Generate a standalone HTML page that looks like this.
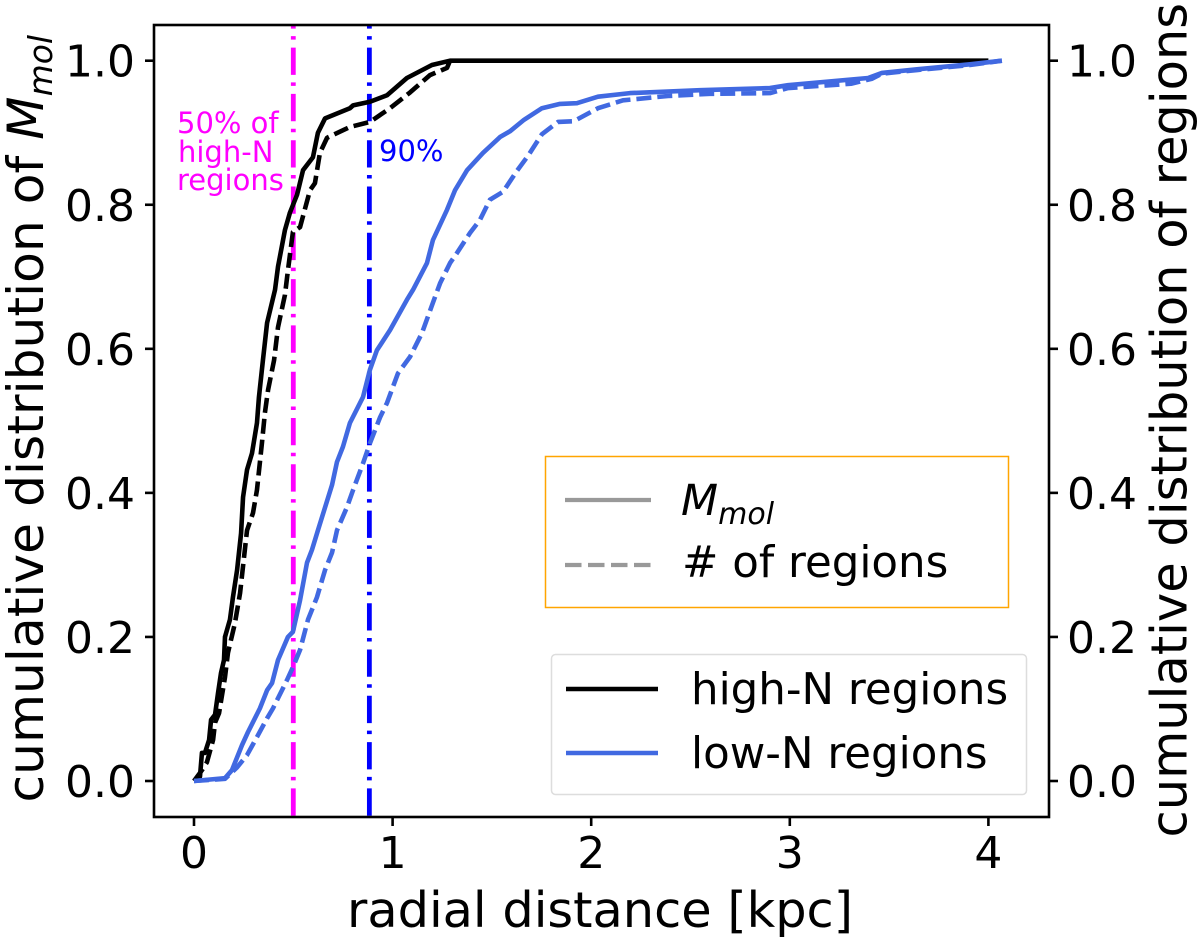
<!DOCTYPE html>
<html>
<head>
<meta charset="utf-8">
<style>
html,body{margin:0;padding:0;background:#fff}
svg{display:block}
text{font-family:"DejaVu Sans","Liberation Sans",sans-serif;fill:#000}
</style>
</head>
<body>
<svg id="chart" width="1200" height="941" viewBox="0 0 1200 941" xmlns="http://www.w3.org/2000/svg">
  <rect x="154" y="25" width="895" height="792" fill="#fff"/>
  <g id="vlines"></g>
  <g id="series"></g>
  <g id="axes"></g>
  <text x="177" y="133" font-size="29" style="fill:#ff00ff">50% of</text>
  <text x="178" y="162" font-size="29" style="fill:#ff00ff">high-N</text>
  <text x="177" y="190" font-size="29" style="fill:#ff00ff">regions</text>
  <text x="379" y="161" font-size="29" style="fill:#0000ff">90%</text>

  <text x="600" y="927" font-size="49.4" text-anchor="middle">radial distance [kpc]</text>
  <text transform="translate(43,802.5) rotate(-90)" font-size="50.3">cumulative distribution of <tspan font-style="italic">M</tspan><tspan font-style="italic" font-size="33" dy="9">mol</tspan></text>
  <text transform="translate(1186.5,837.5) rotate(-90)" font-size="49.5">cumulative distribution of regions</text>

  <g>
    <rect x="545.5" y="456.5" width="463" height="151" fill="#fff" stroke="#ffa500" stroke-width="1.5"/>
    <line x1="565" x2="651" y1="500" y2="500" stroke="#999" stroke-width="4.2"/>
    <text x="681" y="515" font-size="43" font-style="italic">M<tspan font-size="30" dy="9">mol</tspan></text>
    <line x1="565" x2="651" y1="565" y2="565" stroke="#999" stroke-width="4.2" stroke-dasharray="16.5 6.5"/>
    <text x="682" y="577" font-size="43.5"># of regions</text>
  </g>
  <g>
    <rect x="551.5" y="654.5" width="475" height="140" rx="4" ry="4" fill="#fff" fill-opacity="0.8" stroke="#ddd" stroke-width="1.5"/>
    <line x1="566" x2="658" y1="689" y2="689" stroke="#000" stroke-width="4.4"/>
    <text x="691" y="704" font-size="43.5">high-N regions</text>
    <line x1="566" x2="658" y1="753" y2="753" stroke="#4169e1" stroke-width="4.4"/>
    <text x="691" y="768" font-size="43.5">low-N regions</text>
  </g>
</svg>
<script>
const xTicks = [0, 1, 2, 3, 4];
const yTicks = [0.0, 0.2, 0.4, 0.6, 0.8, 1.0];
const markerLines = [0.5, 0.883];

const highSolidX = [0,.030,.040,.055,.076,.086,.106,.121,.136,.151,.156,.181,.196,.217,.237,.247,.267,.292,.317,.327,.347,.368,.408,.423,.458,.483,.519,.549,.599,.624,.660,.785,.801,.886,.972,1.072,1.198,1.289,4.0];
const highSolidY = [0,.006,.039,.039,.057,.085,.092,.122,.150,.168,.200,.224,.255,.293,.344,.394,.432,.455,.497,.533,.584,.636,.682,.714,.765,.789,.814,.848,.866,.900,.920,.934,.938,.943,.952,.976,.994,1.0,1.0];

const highDashX = [0,.040,.065,.096,.106,.126,.141,.156,.171,.206,.232,.252,.267,.297,.317,.342,.357,.373,.403,.423,.458,.473,.498,.534,.584,.609,.634,.670,.785,.886,.987,1.088,1.188,1.274,1.289];
const highDashY = [0,.015,.026,.057,.081,.094,.119,.144,.178,.219,.261,.311,.348,.372,.404,.469,.511,.543,.584,.630,.675,.709,.762,.769,.820,.830,.872,.893,.908,.915,.934,.956,.980,.990,1.0];

const lowSolidX = [0,.156,.191,.242,.272,.332,.368,.393,.423,.473,.498,.534,.569,.594,.624,.660,.695,.720,.750,.785,.851,.886,.921,.987,1.072,1.103,1.173,1.203,1.274,1.314,1.375,1.455,1.541,1.591,1.662,1.752,1.843,1.928,2.034,2.195,2.548,2.900,2.991,3.394,3.464,3.640,3.907,4.068];
const lowSolidY = [0,.004,.015,.050,.068,.101,.126,.136,.168,.200,.207,.251,.303,.321,.348,.380,.411,.443,.464,.497,.533,.571,.598,.626,.668,.682,.719,.751,.793,.820,.848,.872,.894,.902,.918,.934,.940,.941,.950,.955,.959,.962,.966,.976,.983,.988,.995,1.0];

const lowDashX = [0,.156,.217,.267,.317,.368,.398,.468,.498,.534,.574,.619,.660,.695,.720,.770,.801,.851,.886,.937,.972,1.027,1.088,1.148,1.203,1.239,1.289,1.324,1.390,1.440,1.490,1.556,1.626,1.682,1.752,1.833,1.913,2.034,2.160,2.387,2.598,2.900,2.991,3.308,3.414,3.464,3.640,3.907,4.068];
const lowDashY = [0,.003,.019,.036,.061,.087,.101,.140,.158,.182,.224,.255,.293,.317,.348,.380,.404,.441,.469,.505,.525,.566,.589,.622,.664,.691,.719,.733,.761,.779,.807,.818,.847,.868,.898,.915,.916,.934,.945,.951,.954,.955,.962,.968,.975,.982,.987,.994,1.0];

const NS = 'http://www.w3.org/2000/svg';
const plotLeft = 154, plotRight = 1049, plotTop = 25, plotBottom = 817;
function xScale(v) { return 194 + v * 198.6; }
function yScale(v) { return 781 - v * 720.3; }
function make(tag, attrs, parent) {
  const el = document.createElementNS(NS, tag);
  for (const k in attrs) el.setAttribute(k, attrs[k]);
  parent.appendChild(el);
  return el;
}
function linePath(xs, ys) {
  return xs.map((x, i) => (i ? 'L' : 'M') + xScale(x).toFixed(2) + ' ' + yScale(ys[i]).toFixed(2)).join(' ');
}

const vlines = document.getElementById('vlines');
const vColors = ['#ff00ff', '#0000ff'];
markerLines.forEach((v, i) => {
  const l = make('line', {x1: xScale(v), x2: xScale(v), y1: plotTop, y2: plotBottom, stroke: vColors[i], 'stroke-width': 4.8, 'stroke-dasharray': '27.3 7.5 3.5 8', 'stroke-dashoffset': 23.7}, vlines);
  
  
});

const series = document.getElementById('series');
const highDash = make('path', {d: linePath(highDashX, highDashY), fill: 'none', stroke: '#000', 'stroke-width': 4.6, 'stroke-linejoin': 'round', 'stroke-dasharray': '15 6'}, series);


const highSolid = make('path', {d: linePath(highSolidX, highSolidY), fill: 'none', stroke: '#000', 'stroke-width': 4.6, 'stroke-linejoin': 'round'}, series);


const lowDash = make('path', {d: linePath(lowDashX, lowDashY), fill: 'none', stroke: '#4169e1', 'stroke-width': 4.6, 'stroke-linejoin': 'round', 'stroke-dasharray': '15 6'}, series);


const lowSolid = make('path', {d: linePath(lowSolidX, lowSolidY), fill: 'none', stroke: '#4169e1', 'stroke-width': 4.6, 'stroke-linejoin': 'round'}, series);



const axes = document.getElementById('axes');
const frame = make('rect', {x: plotLeft, y: plotTop, width: plotRight - plotLeft, height: plotBottom - plotTop, fill: 'none', stroke: '#000', 'stroke-width': 2.6}, axes);



xTicks.forEach(v => {
  const px = xScale(v);
  const t = make('line', {x1: px, x2: px, y1: plotBottom, y2: plotBottom + 9, stroke: '#000', 'stroke-width': 2.6}, axes);
  
  
  const lab = make('text', {x: px, y: 868, 'font-size': 44, 'text-anchor': 'middle'}, axes);
  lab.textContent = String(v);
  
  
});
yTicks.forEach(v => {
  const py = yScale(v);
  const tl = make('line', {x1: plotLeft - 9, x2: plotLeft, y1: py, y2: py, stroke: '#000', 'stroke-width': 2.6}, axes);
  
  
  const tr = make('line', {x1: plotRight, x2: plotRight + 9, y1: py, y2: py, stroke: '#000', 'stroke-width': 2.6}, axes);
  
  
  const ll = make('text', {x: 135, y: py + 16, 'font-size': 44, 'text-anchor': 'end'}, axes);
  ll.textContent = v.toFixed(1);
  
  
  const lr = make('text', {x: 1067, y: py + 16, 'font-size': 44}, axes);
  lr.textContent = v.toFixed(1);
  
  
});
</script>
</body>
</html>
